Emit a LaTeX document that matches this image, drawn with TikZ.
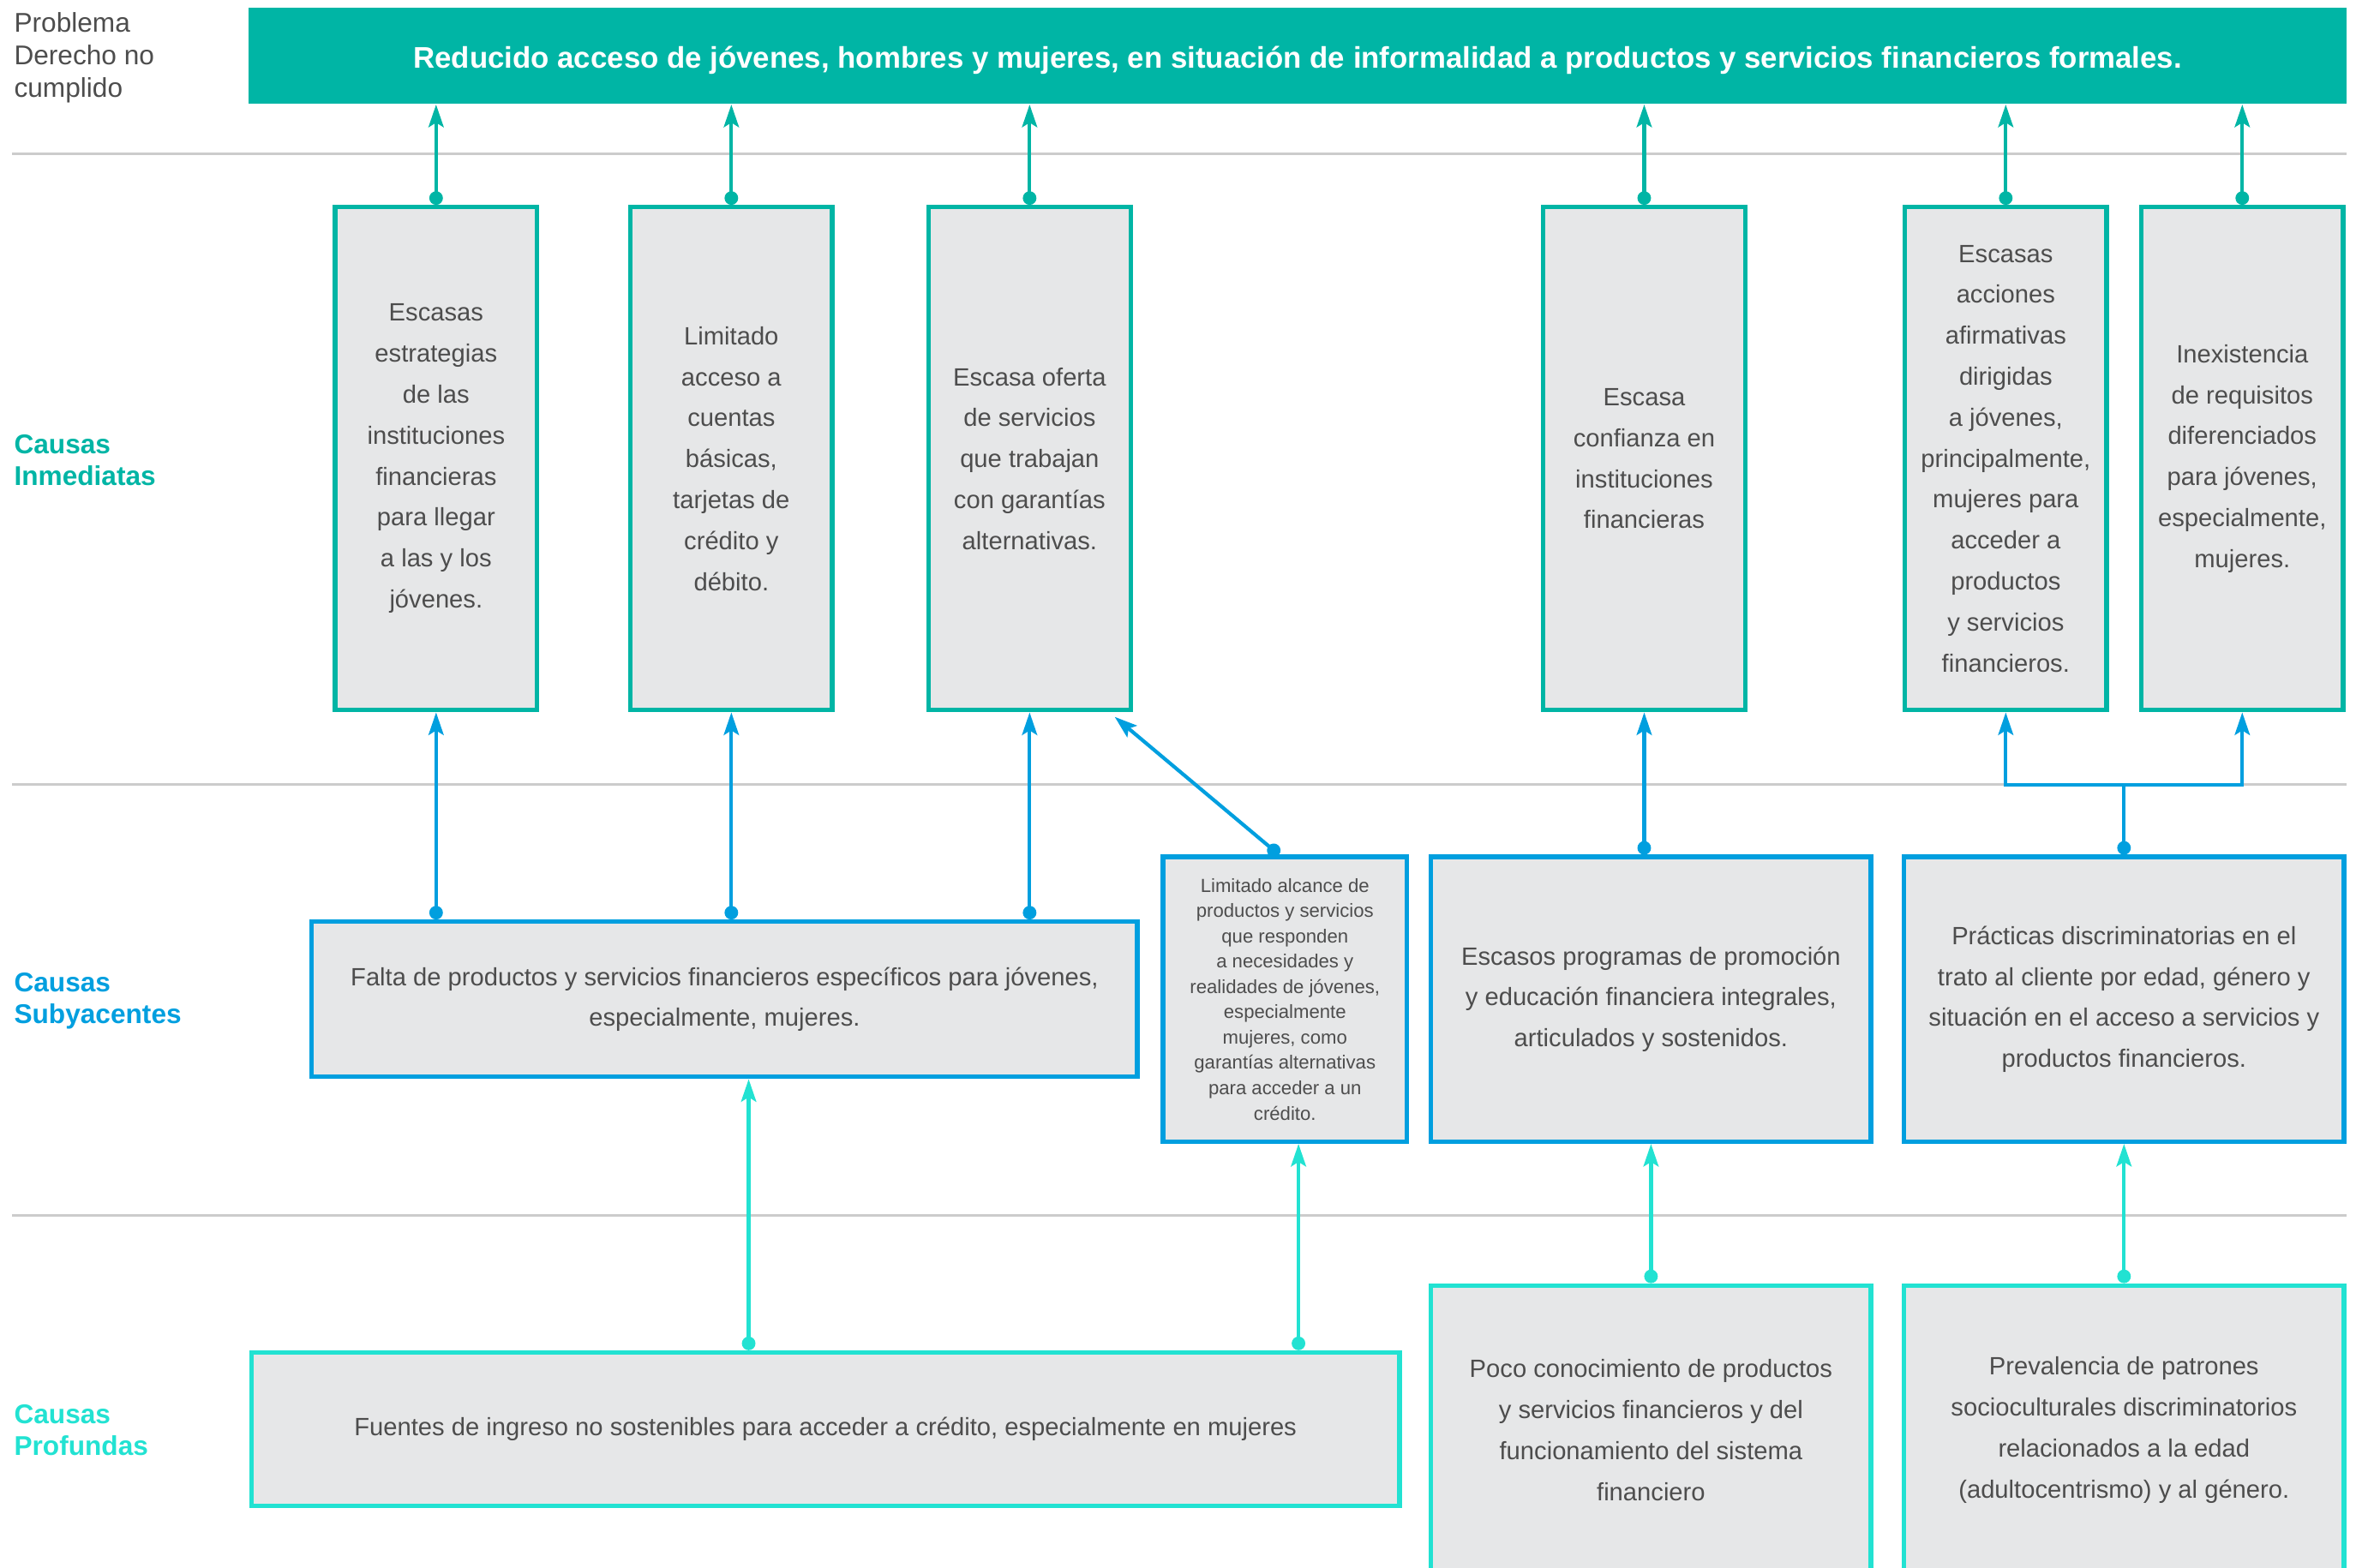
\documentclass[tikz,border=0pt]{standalone}
\usepackage{fontspec}
\setmainfont{Liberation Sans}
\usetikzlibrary{arrows.meta,calc}
\definecolor{teal}{HTML}{00B5A5}
\definecolor{sky}{HTML}{009FDF}
\definecolor{aqua}{HTML}{22E2D2}
\definecolor{panel}{HTML}{E6E7E8}
\definecolor{ink}{HTML}{4D4D4D}
\definecolor{rule}{HTML}{CCCCCC}
\tikzset{
  box/.style={draw, line width=1.5pt, fill=panel, text=ink, align=center, inner sep=0pt,
    font=\fontsize{8.3}{13.6}\selectfont},
  imm/.style={box, draw=teal, minimum width=67pt, minimum height=167pt},
  sub/.style={box, draw=sky},
  deep/.style={box, draw=aqua},
  sep/.style={draw=rule, line width=0.8pt},
  conn/.style={line width=1.2pt, {Circle[length=4.5pt]}-{Stealth[length=7.5pt,width=5pt,inset=1.5pt]}},
  tarr/.style={conn, draw=teal},
  sarr/.style={conn, draw=sky},
  aarr/.style={conn, draw=aqua},
  lvl/.style={anchor=west, align=left, inner sep=0pt, font=\bfseries\fontsize{9}{10.5}\selectfont},
}
\begin{document}
\begin{tikzpicture}[x=0.5pt, y=-0.5pt]
  \useasboundingbox (0,0) rectangle (1568,1041);
  % row separators
  \foreach \y in {102,521,807}
    \draw[sep] (8,\y) -- (1558,\y);
  % level labels
  \node[anchor=north west, align=left, inner sep=0pt, text=ink,
    font=\fontsize{9}{10.75}\selectfont] (lprob) at (9,8) {Problema\\Derecho no\\cumplido};
  \node[lvl, text=teal] (limm) at (9,305.5) {Causas\\Inmediatas};
  \node[lvl, text=sky] (lsub) at (9,664.5) {Causas\\Subyacentes};
  \node[lvl, text=aqua] (ldeep) at (9,949.5) {Causas\\Profundas};
  % problem
  \node[fill=teal, text=white, minimum width=696.5pt, minimum height=32pt, inner sep=0pt,
    text height=10.2pt, text depth=2.1pt,
    font=\bfseries\fontsize{9.9}{11}\selectfont] (head) at (861.5,37)
    {Reducido acceso de jóvenes, hombres y mujeres, en situación de informalidad a productos y servicios financieros formales.};
  % immediate causes
  \node[imm] (imm1) at (289.5,304.5) {Escasas\\estrategias\\de las\\instituciones\\financieras\\para llegar\\a las y los\\jóvenes.};
  \node[imm] (imm2) at (485.5,304.5) {Limitado\\acceso a\\cuentas\\básicas,\\tarjetas de\\crédito y\\débito.};
  \node[imm] (imm3) at (683.5,304.5) {Escasa oferta\\de servicios\\que trabajan\\con garantías\\alternativas.};
  \node[imm] (imm4) at (1091.5,304.5) {Escasa\\confianza en\\instituciones\\financieras};
  \node[imm] (imm5) at (1331.5,304.5) {Escasas\\acciones\\afirmativas\\dirigidas\\a jóvenes,\\principalmente,\\mujeres para\\acceder a\\productos\\y servicios\\financieros.};
  \node[imm] (imm6) at (1488.5,304.5) {Inexistencia\\de requisitos\\diferenciados\\para jóvenes,\\especialmente,\\mujeres.};
  % underlying causes
  \node[sub, minimum width=274pt, minimum height=51.5pt] (subA) at (481,663.5)
    {Falta de productos y servicios financieros específicos para jóvenes,\\especialmente, mujeres.};
  \node[sub, minimum width=81pt, minimum height=94.5pt, font=\fontsize{6.3}{8.4}\selectfont] (subB) at (853,663.5)
    {Limitado alcance de\\productos y servicios\\que responden\\a necesidades y\\realidades de jóvenes,\\especialmente\\mujeres, como\\garantías alternativas\\para acceder a un\\crédito.};
  \node[sub, minimum width=146pt, minimum height=94.5pt] (subC) at (1096,663.5)
    {Escasos programas de promoción\\y educación financiera integrales,\\articulados y sostenidos.};
  \node[sub, minimum width=146pt, minimum height=94.5pt] (subD) at (1410,663.5)
    {Prácticas discriminatorias en el\\trato al cliente por edad, género y\\situación en el acceso a servicios y\\productos financieros.};
  % deep causes
  \node[deep, minimum width=381pt, minimum height=51pt] (deep1) at (548,949)
    {Fuentes de ingreso no sostenibles para acceder a crédito, especialmente en mujeres};
  \node[deep, minimum width=146pt, minimum height=96pt] (deep2) at (1096,949.5)
    {Poco conocimiento de productos\\y servicios financieros y del\\funcionamiento del sistema\\financiero};
  \node[deep, minimum width=146pt, minimum height=96pt] (deep3) at (1410,949.5)
    {Prevalencia de patrones\\socioculturales discriminatorios\\relacionados a la edad\\(adultocentrismo) y al género.};
  % immediate -> problem
  \foreach \n in {imm1,imm2,imm3,imm4,imm5,imm6}
    \draw[tarr] (\n.north) -- (\n.north |- head.south);
  % underlying -> immediate
  \foreach \n in {imm1,imm2,imm3}
    \draw[sarr] (\n.south |- subA.north) -- (\n.south);
  \draw[sarr] ([xshift=-2pt]subB.north) -- ([xshift=-6pt,yshift=-1.5pt]imm3.south east);
  \draw[sarr] (imm4.south |- subC.north) -- (imm4.south);
  \coordinate (jct) at (1410,521);
  \draw[sky, line width=1.2pt, {Circle[length=4.5pt]}-] (subD.north) -- (jct);
  \draw[sky, line width=1.2pt, -{Stealth[length=7.5pt,width=5pt,inset=1.5pt]}, line join=miter] (jct) -| (imm5.south);
  \draw[sky, line width=1.2pt, -{Stealth[length=7.5pt,width=5pt,inset=1.5pt]}, line join=miter] (jct) -| (imm6.south);
  % deep -> underlying
  \draw[aarr] ([xshift=8pt]subA.south |- deep1.north) -- ([xshift=8pt]subA.south);
  \draw[aarr] ([xshift=4.5pt]subB.south |- deep1.north) -- ([xshift=4.5pt]subB.south);
  \draw[aarr] (deep2.north) -- (subC.south);
  \draw[aarr] (deep3.north) -- (subD.south);
\end{tikzpicture}
\end{document}
